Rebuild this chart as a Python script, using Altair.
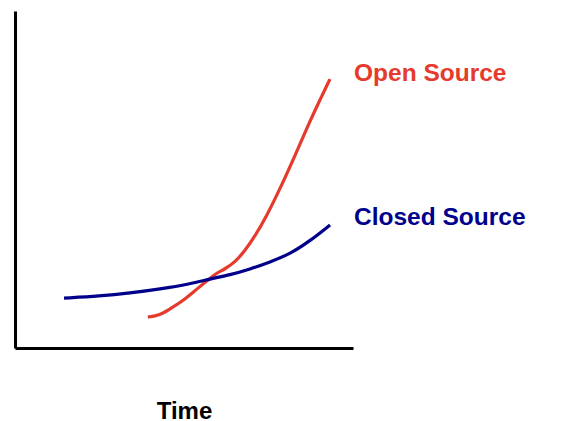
import altair as alt
import pandas as pd

# Closed Source curve (time, value)
closed_x = [14.5, 25.1, 34.0, 42.9, 51.8, 57.7, 63.6, 69.5, 75.4, 81.4, 87.3, 93.2]
closed_y = [14.8, 15.4, 16.3, 17.5, 19.0, 20.5, 21.7, 23.4, 25.5, 27.9, 31.8, 36.5]

# Open Source curve (time, value)
open_x = [39.3, 41.4, 43.5, 46.4, 50.3, 53.8, 56.8, 59.2, 62.1, 65.1, 68.0, 71.0, 74.0, 78.4, 82.8, 87.3, 90.2, 93.2]
open_y = [9.2, 9.5, 10.1, 11.9, 14.5, 17.5, 19.9, 22.0, 23.4, 25.5, 28.8, 33.2, 38.3, 47.2, 57.0, 67.4, 73.6, 79.8]

series_names = ["Open Source", "Closed Source"]
label_x = [100.3, 100.3]
label_y = [81.3, 38.6]
series_colors = ["#e53a2c", "#00008b"]

rows = []
for i, (x, y) in enumerate(zip(open_x, open_y)):
    rows.append({"t": x, "v": y, "series": "Open Source", "order": i})
for i, (x, y) in enumerate(zip(closed_x, closed_y)):
    rows.append({"t": x, "v": y, "series": "Closed Source", "order": i})
df = pd.DataFrame(rows)
labels = pd.DataFrame({"series": series_names, "t": label_x, "v": label_y})

xscale = alt.Scale(domain=[0, 100], nice=False, zero=False)
yscale = alt.Scale(domain=[0, 100], nice=False, zero=False)
color = alt.Color("series:N", scale=alt.Scale(domain=series_names, range=series_colors), legend=None)

lines = alt.Chart(df).mark_line(interpolate="basis", strokeWidth=3.2).encode(
    x=alt.X("t:Q", scale=xscale,
            axis=alt.Axis(title="Time", domain=True, domainColor="black", domainWidth=3,
                          ticks=False, labels=False, grid=False,
                          titleFont="Liberation Sans", titleFontSize=24, titleFontWeight="bold",
                          titleColor="black", titlePadding=51)),
    y=alt.Y("v:Q", scale=yscale,
            axis=alt.Axis(title="", domain=True, domainColor="black", domainWidth=3,
                          ticks=False, labels=False, grid=False)),
    color=color,
    detail="series:N",
    order="order:Q",
)

texts = alt.Chart(labels).mark_text(
    align="left", baseline="middle", font="Liberation Sans", fontSize=24.5, fontWeight="bold"
).encode(
    x=alt.X("t:Q", scale=xscale),
    y=alt.Y("v:Q", scale=yscale),
    text="series:N",
    color=color,
)

chart = (lines + texts).properties(
    width=338, height=337,
    padding={"left": 7, "top": 3, "right": 5, "bottom": 0},
    background="white",
).configure_view(stroke=None)

chart.save("out.html", embed_options={"renderer": "svg", "actions": False})
